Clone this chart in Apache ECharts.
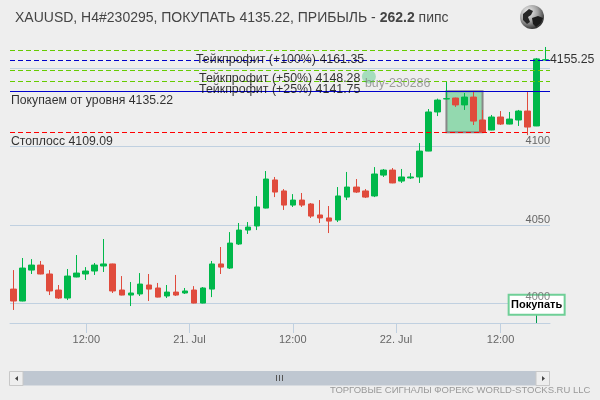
<!DOCTYPE html>
<html>
<head>
<meta charset="utf-8">
<style>html,body{margin:0;padding:0;background:#eeeeee}#chart{width:600px;height:400px}</style>
<script src="https://cdn.jsdelivr.net/npm/echarts@6/dist/echarts.min.js"></script>
</head>
<body>
<div id="chart"></div>
<script>
// H1 candles, each row: open, close, low, high
const candles = [
  [4009.2,4001.6,3995.9,4021.3],[4001.6,4022.6,4001.4,4029.0],[4021.3,4024.5,4018.8,4028.3],
  [4024.5,4018.8,4018.6,4027.1],[4018.8,4008.0,4005.4,4021.3],[4008.6,4003.5,4002.9,4011.8],
  [4003.5,4017.5,4002.2,4022.0],[4016.9,4019.4,4016.7,4030.9],[4018.8,4020.7,4015.0,4023.2],
  [4020.7,4024.5,4018.2,4025.8],[4023.9,4025.2,4020.1,4041.1],[4025.2,4008.0,4006.7,4025.4],
  [4008.6,4005.4,4005.2,4017.5],[4005.4,4006.7,3998.4,4013.7],[4006.1,4012.4,4004.8,4019.4],
  [4011.8,4009.2,4001.6,4018.8],[4009.9,4004.1,4003.9,4013.1],[4004.8,4007.3,4003.5,4011.8],
  [4007.3,4005.4,4004.8,4018.2],[4006.7,4008.0,4006.1,4009.9],[4008.6,4000.3,4000.1,4011.1],
  [4000.3,4009.9,4000.1,4010.5],[4009.2,4025.2,4004.1,4027.1],[4025.2,4023.2,4018.8,4036.0],
  [4022.6,4038.5,4022.0,4045.5],[4037.9,4046.8,4037.3,4051.3],[4046.8,4048.7,4044.3,4051.9],
  [4049.4,4061.5,4046.8,4068.5],[4060.8,4079.3,4060.6,4084.4],[4078.7,4071.0,4067.8,4080.6],
  [4071.7,4062.7,4059.6,4072.9],[4062.7,4065.9,4061.5,4069.7],[4065.9,4062.7,4061.5,4070.4],
  [4063.4,4055.7,4054.5,4064.0],[4056.4,4054.5,4051.3,4065.9],[4054.5,4052.5,4044.9,4062.1],
  [4053.2,4068.5,4051.9,4074.2],[4067.8,4074.2,4065.9,4083.8],[4074.2,4071.0,4070.4,4079.3],
  [4071.7,4067.8,4067.2,4072.9],[4068.5,4082.5,4067.8,4086.9],[4081.8,4085.0,4080.6,4085.7],
  [4085.0,4076.8,4076.6,4086.3],[4078.0,4080.6,4076.8,4085.7],[4080.0,4080.6,4079.3,4083.1],
  [4080.6,4097.1,4076.8,4102.2],[4097.1,4122.0,4097.0,4123.9],[4122.0,4129.6,4119.4,4130.5],
  [4130.3,4130.5,4130.0,4141.7],[4130.9,4126.5,4125.2,4131.1],[4126.5,4131.5,4123.3,4134.1],
  [4131.5,4116.2,4113.7,4135.4],[4116.9,4109.2,4109.0,4123.3],[4110.5,4118.8,4110.3,4120.1],
  [4118.8,4114.3,4113.7,4122.6],[4114.3,4117.5,4114.1,4122.0],[4116.9,4122.6,4113.1,4123.3],
  [4122.6,4112.4,4107.3,4134.7],[4113.1,4155.8,4113.0,4156.4],[4155.1,4155.25,4154.5,4163.4]
];

const takeProfit100 = 4161.35, takeProfit50 = 4148.28, takeProfit25 = 4141.75;
const entryPrice = 4135.22, stopLoss = 4109.09, lastPrice = 4155.25;
const entryCandle = 48, exitCandle = 52, signalCandle = 58;

const priceGrid = [4000, 4050, 4100, 4150];
const priceLabels = [4050, 4100];
const timeTicks = [8.07, 19.5, 30.96, 42.4, 54];
const timeLabels = ['12:00', '21. Jul', '12:00', '22. Jul', '12:00'];

const FONT = '"Liberation Sans", Arial, sans-serif';
const UP = '#00b84a', DOWN = '#e04b3c', LIME = '#66cc00', BLUE = '#0000cc';
const YMIN = 3987.6, YMAX = 4165.3;

const chart = echarts.init(document.getElementById('chart'), null, { renderer: 'canvas' });

const note = (x, y, text, offsetY, fontSize) => ({
  value: [x, y],
  label: { formatter: text, offset: [0, offsetY], fontSize: fontSize || 12.4 }
});

chart.setOption({
  animation: false,
  backgroundColor: '#eeeeee',
  title: {
    left: 10, top: 6,
    text: '{n|XAUUSD, H4#230295, ПОКУПАТЬ 4135.22, ПРИБЫЛЬ - }{b|262.2}{n| пипс}',
    textStyle: {
      fontWeight: 'normal',
      rich: {
        n: { fontFamily: FONT, fontSize: 14, fontWeight: 'normal', color: '#444444' },
        b: { fontFamily: FONT, fontSize: 14, fontWeight: 'bold', color: '#444444' }
      }
    }
  },
  grid: { left: 10, width: 540, top: 44, height: 279 },
  xAxis: {
    type: 'value',
    min: -0.39, max: 59.48,
    splitLine: { show: false },
    axisLine: { lineStyle: { color: '#c0d0e0', width: 1 } },
    axisTick: { length: 10, customValues: timeTicks, lineStyle: { color: '#c0d0e0' } },
    axisLabel: {
      customValues: timeTicks, margin: 11,
      color: '#666666', fontFamily: FONT, fontSize: 11,
      formatter: v => timeLabels[timeTicks.indexOf(v)]
    }
  },
  yAxis: {
    type: 'value',
    position: 'right',
    min: YMIN, max: YMAX,
    axisLine: { show: false },
    axisTick: { show: false, customValues: priceGrid },
    splitLine: { lineStyle: { color: '#c0d0e0', width: 1 } },
    axisLabel: {
      inside: true, customValues: priceLabels, margin: 0,
      verticalAlign: 'bottom',
      color: '#666666', fontFamily: FONT, fontSize: 11,
      formatter: v => String(v)
    }
  },
  series: [
    {
      type: 'candlestick',
      encode: { x: 0, y: [1, 2, 3, 4] },
      data: candles.map((c, i) => [i, ...c]),
      barWidth: 6,
      itemStyle: { color: UP, color0: DOWN, borderColor: UP, borderColor0: DOWN, borderWidth: 1 },
      markArea: {
        silent: true, z: 1,
        itemStyle: { color: 'rgba(0,184,74,0.38)', borderColor: '#888888', borderWidth: 2 },
        data: [[{ coord: [entryCandle, entryPrice] }, { coord: [exitCandle, stopLoss] }]]
      },
      markLine: {
        silent: true, symbol: 'none', label: { show: false },
        data: [
          { yAxis: takeProfit100, lineStyle: { color: LIME, type: [5, 3], width: 1 } },
          { yAxis: takeProfit50, lineStyle: { color: LIME, type: [5, 3], width: 1 } },
          { yAxis: takeProfit25, lineStyle: { color: LIME, type: [5, 3], width: 1 } },
          { yAxis: lastPrice, lineStyle: { color: BLUE, type: [5, 3], width: 1 } },
          { yAxis: entryPrice, lineStyle: { color: BLUE, type: 'solid', width: 1 } },
          { yAxis: stopLoss, lineStyle: { color: '#ff0000', type: [5, 3], width: 1 } },
          [
            { coord: [signalCandle, YMIN], lineStyle: { color: '#00994d', type: 'solid', width: 1 } },
            { coord: [signalCandle, 3999.2] }
          ]
        ]
      },
      markPoint: {
        silent: true,
        data: [{
          coord: [signalCandle, 3999.2],
          symbol: 'circle', symbolSize: 0,
          // The flag box is the label's own background, so its border stays even on all sides
          label: {
            show: true, position: 'inside', formatter: 'Покупать',
            color: '#000000', fontFamily: FONT, fontSize: 11, fontWeight: 'bold',
            align: 'center', verticalAlign: 'middle',
            width: 54, height: 18, lineHeight: 18,
            backgroundColor: '#ffffff', borderColor: '#6fcf97', borderWidth: 2
          }
        }]
      }
    },
    {
      // Level captions sit just under the lines they describe
      type: 'scatter',
      symbolSize: 0,
      silent: true,
      clip: false,
      z: 6,
      label: {
        show: true, position: 'right', distance: 0,
        color: '#000000', fontFamily: FONT, fontSize: 12.4
      },
      data: [
        note(20.23, takeProfit100, 'Тейкпрофит (+100%) 4161.35', 9),
        note(20.57, takeProfit50, 'Тейкпрофит (+50%) 4148.28', 8),
        note(20.57, takeProfit25, 'Тейкпрофит (+25%) 4141.75', 9),
        note(-0.28, entryPrice, 'Покупаем от уровня 4135.22', 9, 12.25),
        note(-0.28, stopLoss, 'Стоплосс 4109.09', 9, 12.25),
        { value: [59.48, lastPrice], label: { formatter: '4155.25', fontSize: 12.3 } },
        {
          value: [59.48, 4000],
          label: {
            position: 'left', formatter: '4000', color: '#666666',
            fontSize: 11, offset: [0, -6.5]
          }
        }
      ]
    },
    {
      // Order marker
      type: 'scatter',
      symbol: 'circle',
      symbolSize: 14,
      silent: true,
      clip: false,
      z: 6,
      itemStyle: { color: 'rgba(0,184,74,0.38)' },
      label: {
        show: true, position: 'right', distance: 0, offset: [-11, 7],
        formatter: 'buy-230286', color: '#888888', fontFamily: FONT, fontSize: 12.4
      },
      data: [[39.4, 4144.5]]
    }
  ],
  graphic: [
    // Scrollbar track, end buttons and grip
    { type: 'rect', silent: true, shape: { x: 10, y: 371, width: 540, height: 14.5 }, style: { fill: '#bfc7d1' } },
    { type: 'rect', silent: true, shape: { x: 9.5, y: 371.5, width: 13.5, height: 14 }, style: { fill: '#eeeeee', stroke: '#c8c8c8' } },
    { type: 'rect', silent: true, shape: { x: 536, y: 371.5, width: 13.5, height: 14 }, style: { fill: '#eeeeee', stroke: '#c8c8c8' } },
    { type: 'polygon', silent: true, shape: { points: [[18, 376], [18, 381], [15, 378.5]] }, style: { fill: '#444444' } },
    { type: 'polygon', silent: true, shape: { points: [[542, 376], [542, 381], [545, 378.5]] }, style: { fill: '#444444' } },
    ...[276.5, 279.5, 282.5].map(x => ({
      type: 'line', silent: true,
      shape: { x1: x, y1: 375, x2: x, y2: 381 },
      style: { stroke: '#555555', lineWidth: 1 }
    })),
    {
      type: 'text', silent: true, left: 330, top: 385,
      style: {
        text: 'ТОРГОВЫЕ СИГНАЛЫ ФОРЕКС WORLD-STOCKS.RU LLC',
        fill: '#999999', font: '9.5px ' + FONT
      }
    },
    // Globe badge in the header
    {
      type: 'group', silent: true, x: 532, y: 17,
      children: [
        {
          type: 'circle', shape: { cx: 0, cy: 0, r: 12 },
          style: {
            fill: new echarts.graphic.RadialGradient(0.35, 0.3, 0.8, [
              { offset: 0, color: '#f4f4f4' },
              { offset: 0.5, color: '#a0a0a0' },
              { offset: 1, color: '#1a1a1a' }
            ])
          }
        },
        {
          type: 'polygon',
          shape: { points: [[-9, -3], [-3, -8], [1, -6], [-1, -2], [-4, 0], [-2, 5], [-5, 7], [-9, 3]] },
          style: { fill: '#262626' }
        },
        {
          type: 'polygon',
          shape: { points: [[0, 1], [6, -1], [11, 1], [9, 6], [4, 10], [1, 7]] },
          style: { fill: '#1c1c1c' }
        }
      ]
    }
  ]
});
</script>
</body>
</html>
